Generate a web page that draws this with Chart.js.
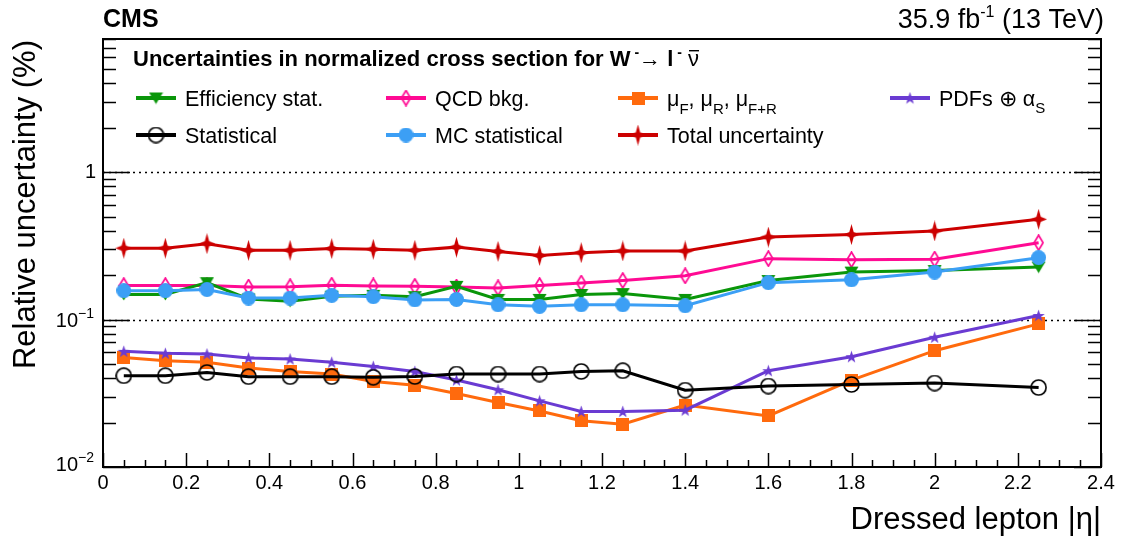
<!DOCTYPE html>
<html>
<head>
<meta charset="utf-8">
<script src="https://cdn.jsdelivr.net/npm/chart.js@4.4.1/dist/chart.umd.min.js"></script>
<style>
  html, body { margin: 0; padding: 0; background: #fff; }
</style>
</head>
<body>
<canvas id="grafico" width="1121" height="537"></canvas>
<script>
// Bin centres in |eta|
const etaBins = [0.05, 0.15, 0.25, 0.35, 0.45, 0.55, 0.65, 0.75, 0.85, 0.95, 1.05, 1.15, 1.25, 1.4, 1.6, 1.8, 2.0, 2.25];

// Relative uncertainties (%)
const effStat   = [0.148, 0.148, 0.178, 0.138, 0.133, 0.144, 0.146, 0.143, 0.168, 0.137, 0.137, 0.148, 0.150, 0.137, 0.184, 0.210, 0.215, 0.227];
const qcdBkg    = [0.170, 0.170, 0.170, 0.166, 0.167, 0.171, 0.169, 0.168, 0.166, 0.164, 0.170, 0.177, 0.184, 0.198, 0.259, 0.255, 0.257, 0.332];
const scaleUnc  = [0.0554, 0.0526, 0.0513, 0.0469, 0.0445, 0.0427, 0.0380, 0.0359, 0.0315, 0.0274, 0.0240, 0.0206, 0.0195, 0.0263, 0.0222, 0.0389, 0.0615, 0.0935];
const pdfUnc    = [0.0609, 0.0590, 0.0584, 0.0549, 0.0540, 0.0513, 0.0481, 0.0445, 0.0389, 0.0334, 0.0281, 0.0238, 0.0238, 0.0243, 0.0450, 0.0560, 0.0758, 0.1065];
const statUnc   = [0.0416, 0.0416, 0.0438, 0.0410, 0.0410, 0.0410, 0.0406, 0.0411, 0.0427, 0.0427, 0.0427, 0.0445, 0.0450, 0.0332, 0.0354, 0.0363, 0.0371, 0.0346];
const mcStat    = [0.157, 0.157, 0.160, 0.140, 0.140, 0.146, 0.143, 0.136, 0.137, 0.126, 0.123, 0.126, 0.126, 0.124, 0.178, 0.186, 0.210, 0.263];
const totalUnc  = [0.305, 0.305, 0.327, 0.295, 0.295, 0.303, 0.300, 0.295, 0.310, 0.290, 0.272, 0.284, 0.292, 0.292, 0.363, 0.377, 0.399, 0.479];

// Axis tick labels
const xTickLabels = ['0', '0.2', '0.4', '0.6', '0.8', '1', '1.2', '1.4', '1.6', '1.8', '2', '2.2', '2.4'];
const yDecades = [0.01, 0.1, 1];

const FONT = "'Liberation Sans', Arial, Helvetica, sans-serif";

// Marcadores estilo ROOT dibujados en un canvas pequeño
function marker(kind, color, w, h) {
    const c = document.createElement('canvas');
    c.width = w; c.height = h;
    const g = c.getContext('2d');
    const cx = w / 2, cy = h / 2;
    g.fillStyle = color;
    g.strokeStyle = color;
    g.lineWidth = 1.7;
    g.beginPath();
    if (kind === 'triDown') {
        g.moveTo(0.5, 1); g.lineTo(w - 0.5, 1); g.lineTo(cx, h - 0.5); g.closePath(); g.fill();
    } else if (kind === 'diamond') {
        g.moveTo(cx, 1); g.lineTo(w - 1, cy); g.lineTo(cx, h - 1); g.lineTo(1, cy); g.closePath(); g.stroke();
    } else if (kind === 'square') {
        g.fillRect(0, 0, w, h);
    } else if (kind === 'circle') {
        g.arc(cx, cy, w / 2, 0, Math.PI * 2); g.fill();
    } else if (kind === 'openCircle') {
        g.arc(cx, cy, w / 2 - 1, 0, Math.PI * 2); g.stroke();
    } else if (kind === 'star5') {
        for (let i = 0; i < 10; i++) {
            const r = i % 2 ? w * 0.2 : w / 2;
            const a = -Math.PI / 2 + i * Math.PI / 5;
            const px = cx + r * Math.cos(a), py = cy + 0.5 + r * Math.sin(a);
            if (i === 0) g.moveTo(px, py); else g.lineTo(px, py);
        }
        g.closePath(); g.fill();
    } else if (kind === 'star4') {
        const iw = w * 0.13, ih = h * 0.12;
        g.moveTo(cx, 0);
        g.lineTo(cx + iw, cy - ih);
        g.lineTo(w, cy);
        g.lineTo(cx + iw, cy + ih);
        g.lineTo(cx, h);
        g.lineTo(cx - iw, cy + ih);
        g.lineTo(0, cy);
        g.lineTo(cx - iw, cy - ih);
        g.closePath(); g.fill();
    }
    return c;
}

const series = [
    { label: 'Efficiency stat.',  values: effStat,  color: '#0a960a', point: marker('triDown', '#0a960a', 15, 13), order: 3 },
    { label: 'QCD bkg.',          values: qcdBkg,   color: '#ff0a93', point: marker('diamond', '#ff0a93', 11, 17), order: 4 },
    { label: 'mu',                values: scaleUnc, color: '#ff6a0d', point: marker('square',  '#ff6a0d', 13, 13), order: 7 },
    { label: 'pdf',               values: pdfUnc,   color: '#6a3bd2', point: marker('star5',   '#6a3bd2', 13, 13), order: 6 },
    { label: 'Statistical',       values: statUnc,  color: '#000000', point: marker('openCircle', '#000000', 17, 17), order: 5 },
    { label: 'MC statistical',    values: mcStat,   color: '#3c9ff5', point: marker('circle',  '#3c9ff5', 15, 15), order: 2 },
    { label: 'Total uncertainty', values: totalUnc, color: '#cc0000', point: marker('star4',   '#cc0000', 17, 21), order: 1 }
];

const datasets = series.map(s => ({
    label: s.label,
    data: etaBins.map((x, i) => ({ x: x, y: s.values[i] })),
    borderColor: s.color,
    backgroundColor: s.color,
    borderWidth: 3,
    pointStyle: s.point,
    order: s.order,
    tension: 0
}));

// Texto con subíndices / superíndices
function rich(ctx, x, y, parts, align) {
    let w = 0;
    parts.forEach(p => { ctx.font = p.f; w += ctx.measureText(p.t).width; });
    let cx = align === 'right' ? x - w : x;
    ctx.textAlign = 'left';
    ctx.textBaseline = 'alphabetic';
    parts.forEach(p => {
        ctx.font = p.f;
        const tw = ctx.measureText(p.t).width;
        ctx.fillText(p.t, cx, y + (p.dy || 0));
        if (p.bar) {
            ctx.fillRect(cx + 1, y - 16, tw - 1, 1.4);
        }
        cx += tw;
    });
    return w;
}

const rootStyle = {
    id: 'rootStyle',
    beforeDatasetsDraw(chart) {
        const { ctx, chartArea: a, scales } = chart;
        ctx.save();
        ctx.strokeStyle = '#000';
        ctx.lineWidth = 1.5;
        ctx.setLineDash([2, 4]);
        [1, 0.1].forEach(v => {
            const y = Math.round(scales.y.getPixelForValue(v)) + 0.5;
            ctx.beginPath(); ctx.moveTo(a.left, y); ctx.lineTo(a.right, y); ctx.stroke();
        });
        ctx.restore();
    },
    afterDatasetsDraw(chart) {
        const { ctx, chartArea: a, scales } = chart;
        const xs = scales.x, ys = scales.y;
        ctx.save();
        ctx.fillStyle = '#000';
        ctx.strokeStyle = '#000';

        // marco
        ctx.lineWidth = 2;
        ctx.strokeRect(a.left, a.top, a.right - a.left, a.bottom - a.top);

        // ticks del eje X (cada 0.05, mayores cada 0.2)
        ctx.lineWidth = 1.5;
        for (let i = 0; i <= 48; i++) {
            const v = i * 0.05;
            const px = Math.round(xs.getPixelForValue(v)) + 0.5;
            const len = i % 4 === 0 ? 14 : 7;
            ctx.beginPath(); ctx.moveTo(px, a.bottom); ctx.lineTo(px, a.bottom - len); ctx.stroke();
        }
        // ticks del eje Y logarítmico, a izquierda y derecha
        yDecades.forEach(d => {
            for (let k = 1; k <= 9; k++) {
                const v = k * d;
                if (v > ys.max) break;
                const py = Math.round(ys.getPixelForValue(v)) + 0.5;
                const len = k === 1 ? 27 : 13;
                ctx.beginPath(); ctx.moveTo(a.left, py); ctx.lineTo(a.left + len, py); ctx.stroke();
                ctx.beginPath(); ctx.moveTo(a.right, py); ctx.lineTo(a.right - len, py); ctx.stroke();
            }
        });

        // etiquetas X
        ctx.font = '20px ' + FONT;
        ctx.textAlign = 'center';
        ctx.textBaseline = 'alphabetic';
        xTickLabels.forEach(t => {
            ctx.fillText(t, xs.getPixelForValue(parseFloat(t)), a.bottom + 22);
        });

        // etiquetas Y
        const big = '20px ' + FONT, sup = '14px ' + FONT;
        rich(ctx, 96, ys.getPixelForValue(1) + 6, [{ t: '1', f: big }], 'right');
        rich(ctx, 94, ys.getPixelForValue(0.1) + 7, [{ t: '10', f: big }, { t: '\u22121', f: sup, dy: -9 }], 'right');
        rich(ctx, 94, ys.getPixelForValue(0.01) + 4, [{ t: '10', f: big }, { t: '\u22122', f: sup, dy: -9 }], 'right');

        // títulos de ejes
        ctx.font = '31px ' + FONT;
        ctx.textAlign = 'right';
        ctx.fillText('Dressed lepton |\u03B7|', a.right, 529);
        ctx.save();
        ctx.translate(35, a.top + 1);
        ctx.rotate(-Math.PI / 2);
        ctx.font = '31px ' + FONT;
        ctx.textAlign = 'right';
        ctx.fillText('Relative uncertainty (%)', 0, 0);
        ctx.restore();

        // CMS y luminosidad
        ctx.textAlign = 'left';
        ctx.font = 'bold 25px ' + FONT;
        ctx.fillText('CMS', a.left, 27);
        const lum = '27px ' + FONT, lumSup = '16px ' + FONT;
        rich(ctx, 1104, 28, [
            { t: '35.9 fb', f: lum }, { t: '-1', f: lumSup, dy: -11 }, { t: ' (13 TeV)', f: lum }
        ], 'right');

        // cabecera de la leyenda
        const hb = 'bold 22px ' + FONT, hn = '22px ' + FONT, hs = 'bold 14px ' + FONT;
        rich(ctx, 133, 66, [
            { t: 'Uncertainties in normalized cross section for W', f: hb },
            { t: ' -', f: hs, dy: -9 },
            { t: '\u2192 ', f: hn },
            { t: 'l', f: hb },
            { t: ' -', f: hs, dy: -9 },
            { t: ' ', f: hn },
            { t: '\u03BD', f: hn, bar: true }
        ]);

        // entradas de la leyenda
        const lf = '21.5px ' + FONT, lsub = '15px ' + FONT;
        const entries = [
            { s: 0, x: 136, y: 98,  parts: [{ t: 'Efficiency stat.', f: lf }] },
            { s: 1, x: 386, y: 98,  parts: [{ t: 'QCD bkg.', f: lf }] },
            { s: 2, x: 618, y: 98,  parts: [
                { t: '\u03BC', f: lf }, { t: 'F', f: lsub, dy: 8 }, { t: ', \u03BC', f: lf }, { t: 'R', f: lsub, dy: 8 },
                { t: ', \u03BC', f: lf }, { t: 'F+R', f: lsub, dy: 8 }] },
            { s: 3, x: 890, y: 98,  parts: [{ t: 'PDFs \u2295 \u03B1', f: lf }, { t: 'S', f: lsub, dy: 7 }] },
            { s: 4, x: 136, y: 135, parts: [{ t: 'Statistical', f: lf }] },
            { s: 5, x: 386, y: 135, parts: [{ t: 'MC statistical', f: lf }] },
            { s: 6, x: 618, y: 135, parts: [{ t: 'Total uncertainty', f: lf }] }
        ];
        entries.forEach(e => {
            const s = series[e.s];
            ctx.strokeStyle = s.color;
            ctx.lineWidth = 4;
            ctx.beginPath(); ctx.moveTo(e.x, e.y); ctx.lineTo(e.x + 40, e.y); ctx.stroke();
            ctx.drawImage(s.point, e.x + 20 - s.point.width / 2, e.y - s.point.height / 2);
            ctx.fillStyle = '#000';
            rich(ctx, e.x + 49, e.y + 8, e.parts);
        });
        ctx.restore();
    }
};

new Chart(document.getElementById('grafico').getContext('2d'), {
    type: 'line',
    data: { datasets: datasets },
    options: {
        responsive: false,
        animation: false,
        layout: { padding: { left: 103, right: 20, top: 39, bottom: 70 } },
        plugins: {
            legend: { display: false },
            tooltip: { enabled: false }
        },
        scales: {
            x: { type: 'linear', min: 0, max: 2.4, display: false },
            y: { type: 'logarithmic', min: 0.01, max: 8, display: false }
        }
    },
    plugins: [rootStyle]
});
</script>
</body>
</html>
